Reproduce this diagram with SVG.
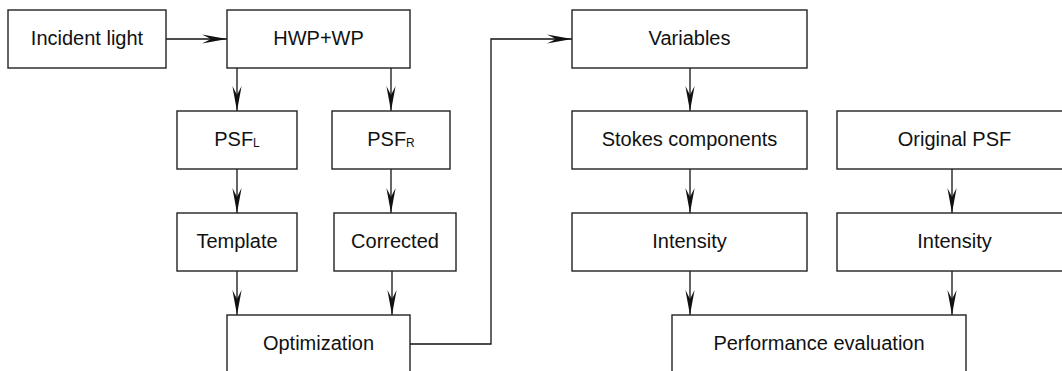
<svg xmlns="http://www.w3.org/2000/svg" width="1062" height="371" viewBox="0 0 1062 371">
<style>
.box{fill:#fff;stroke:#222;stroke-width:1.4}
.lbl{font-family:"Liberation Sans",Arial,sans-serif;font-size:20px;fill:#111;text-anchor:middle}
.sub{font-size:12px}
.conn{fill:none;stroke:#111;stroke-width:1.3;marker-end:url(#ah)}
</style>
<defs>
<marker id="ah" viewBox="-26 -6 27 12" refX="0" refY="0" markerWidth="27" markerHeight="12" markerUnits="userSpaceOnUse" orient="auto">
<path d="M0,0 L-25,-4.6 L-16,0 L-25,4.6 Z" fill="#111"/>
</marker>
</defs>
<rect width="1062" height="371" fill="#fff"/>
<g id="connectors">
<path class="conn" d="M166,39 H227"/>
<path class="conn" d="M237,68 V111"/>
<path class="conn" d="M391,68 V111"/>
<path class="conn" d="M237,169 V213"/>
<path class="conn" d="M391,169 V213"/>
<path class="conn" d="M237,271 V315"/>
<path class="conn" d="M392,271 V315"/>
<path class="conn" d="M410,344 H491 V39 H572"/>
<path class="conn" d="M690,68 V111"/>
<path class="conn" d="M690,169 V213"/>
<path class="conn" d="M952,169 V213"/>
<path class="conn" d="M690,271 V315"/>
<path class="conn" d="M952,271 V315"/>
</g>
<g id="incident"><rect class="box" x="8" y="10" width="158" height="58"/><text class="lbl" x="87" y="45">Incident light</text></g>
<g id="hwp"><rect class="box" x="227" y="10" width="183" height="58"/><text class="lbl" x="318.5" y="45">HWP+WP</text></g>
<g id="psfl"><rect class="box" x="177" y="111" width="120" height="58"/><text class="lbl" x="237" y="146">PSF<tspan class="sub" dy="1">L</tspan></text></g>
<g id="psfr"><rect class="box" x="332" y="111" width="118" height="58"/><text class="lbl" x="391" y="146">PSF<tspan class="sub" dy="1">R</tspan></text></g>
<g id="template"><rect class="box" x="177" y="213" width="120" height="58"/><text class="lbl" x="237" y="248">Template</text></g>
<g id="corrected"><rect class="box" x="334" y="213" width="122" height="58"/><text class="lbl" x="395" y="248">Corrected</text></g>
<g id="optimization"><rect class="box" x="227" y="315" width="183" height="70"/><text class="lbl" x="318.5" y="350">Optimization</text></g>
<g id="variables"><rect class="box" x="572" y="10" width="235" height="58"/><text class="lbl" x="689.5" y="45">Variables</text></g>
<g id="stokes"><rect class="box" x="572" y="111" width="235" height="58"/><text class="lbl" x="689.5" y="146">Stokes components</text></g>
<g id="original"><rect class="box" x="837" y="111" width="235" height="58"/><text class="lbl" x="954.5" y="146">Original PSF</text></g>
<g id="intensity1"><rect class="box" x="572" y="213" width="235" height="58"/><text class="lbl" x="689.5" y="248">Intensity</text></g>
<g id="intensity2"><rect class="box" x="837" y="213" width="235" height="58"/><text class="lbl" x="954.5" y="248">Intensity</text></g>
<g id="performance"><rect class="box" x="672" y="315" width="294" height="70"/><text class="lbl" x="819" y="350">Performance evaluation</text></g>
</svg>
